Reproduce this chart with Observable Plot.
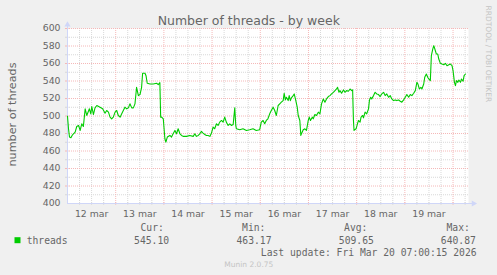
<!DOCTYPE html>
<html><head><meta charset="utf-8">
<script src="https://cdn.jsdelivr.net/npm/d3@7"></script>
<script src="https://cdn.jsdelivr.net/npm/@observablehq/plot@0.6"></script>
<style>
html,body{margin:0;padding:0;background:#F0F0F0;}
#chart{width:497px;height:275px;overflow:hidden;}
</style></head><body><div id="chart"></div>
<script>
// hours since 12 mar 00:00
const hours = [
  0, 0.5, 1.0, 1.7, 2.3, 3.0, 3.8, 4.6, 5.5, 6.3,
  7.1, 7.9, 8.8, 9.6, 10.9, 11.6, 12.1, 12.9, 13.7, 14.6,
  16.2, 17.5, 18.7, 19.5, 20.4, 21.2, 22.0, 22.8, 23.7, 24.5,
  25.3, 26.2, 27.0, 27.8, 28.6, 29.5, 30.3, 31.1, 32.0, 32.8,
  33.6, 34.4, 35.3, 36.1, 36.9, 37.4, 38.6, 39.1, 39.7, 41.1,
  42.7, 44.4, 45.2, 46.0, 46.4, 46.9, 47.7, 48.5, 49.0, 49.7,
  51.0, 51.8, 52.6, 53.5, 54.3, 55.1, 56.0, 56.8, 57.6, 59.3,
  60.9, 62.6, 63.4, 64.2, 65.1, 65.9, 66.7, 67.5, 68.4, 69.2,
  70.0, 70.9, 71.7, 72.5, 73.3, 74.2, 75.0, 75.8, 76.7, 77.5,
  78.3, 79.1, 80.0, 80.8, 81.6, 82.5, 83.3, 83.8, 84.1, 85.8,
  87.4, 89.1, 90.7, 92.4, 94.0, 95.7, 96.5, 97.4, 98.2, 99.0,
  99.8, 100.7, 101.5, 102.4, 103.2, 104.0, 104.9, 105.7, 106.5, 107.4,
  107.9, 108.5, 109.0, 109.9, 110.4, 111.0, 111.5, 112.4, 112.9, 113.7,
  114.4, 114.9, 115.7, 116.2, 116.5, 117.4, 118.2, 119.0, 119.9, 120.4,
  121.0, 121.9, 122.4, 123.2, 124.0, 124.9, 125.7, 126.5, 127.4, 128.2,
  129.0, 129.9, 130.7, 131.5, 132.4, 133.2, 134.0, 134.5, 135.2, 135.7,
  136.5, 137.4, 138.2, 139.0, 139.9, 140.7, 141.5, 142.0, 142.4, 142.7,
  143.7, 144.4, 144.9, 145.7, 146.2, 147.0, 147.4, 148.2, 149.0, 149.9,
  150.4, 151.0, 151.5, 152.4, 153.2, 154.0, 154.9, 155.7, 156.5, 157.4,
  158.2, 159.0, 159.9, 160.7, 161.5, 162.4, 163.2, 164.0, 164.9, 165.7,
  166.5, 167.4, 168.2, 169.0, 169.9, 170.7, 171.5, 172.4, 173.2, 174.0,
  174.5, 175.2, 176.0, 176.5, 177.4, 177.9, 178.7, 179.4, 179.9, 180.7,
  181.2, 181.9, 182.4, 182.7, 183.2, 183.7, 184.4, 184.9, 185.7, 186.5,
  187.4, 188.2, 189.0, 189.9, 190.7, 191.5, 192.0, 192.7, 193.2, 193.7,
  194.4, 194.9, 195.7, 196.2, 197.0, 197.5, 198.2
];
const threads = [
  499.8, 485.4, 475.9, 475.1, 477.8, 479.7, 481.6, 488.0, 489.2, 483.5,
  491.1, 488.0, 508.2, 500.6, 508.2, 502.5, 510.8, 501.7, 509.3, 512.0,
  510.1, 508.2, 503.2, 506.3, 504.4, 498.7, 496.8, 498.7, 504.4, 506.3,
  500.6, 498.7, 502.5, 506.3, 510.1, 508.2, 509.3, 513.9, 509.3, 509.3,
  513.9, 532.8, 523.3, 524.5, 532.8, 548.8, 548.8, 546.1, 537.4, 536.6,
  536.6, 537.4, 535.9, 538.1, 498.7, 498.7, 496.8, 474.0, 470.2, 475.9,
  477.8, 475.9, 479.7, 483.5, 479.7, 485.4, 479.7, 477.8, 476.7, 476.7,
  477.8, 476.7, 479.7, 476.7, 477.8, 479.7, 482.4, 480.5, 478.9, 477.8,
  477.8, 476.7, 480.5, 487.3, 485.4, 491.1, 489.2, 493.0, 494.9, 493.0,
  498.7, 493.0, 489.2, 491.1, 489.2, 490.3, 509.3, 489.2, 485.4, 484.3,
  485.4, 483.5, 484.3, 485.4, 483.5, 484.3, 493.0, 494.9, 491.1, 494.9,
  496.8, 502.5, 506.3, 510.1, 506.3, 500.6, 512.0, 513.9, 515.8, 517.6,
  526.0, 518.4, 521.4, 517.6, 523.3, 517.6, 520.7, 523.3, 525.2, 517.6,
  510.1, 500.6, 494.9, 477.8, 479.7, 484.3, 485.4, 483.5, 494.9, 498.7,
  494.9, 498.7, 496.8, 501.7, 500.6, 504.4, 502.5, 513.9, 519.5, 515.8,
  519.5, 522.2, 523.3, 525.2, 527.1, 529.0, 530.9, 532.8, 527.1, 529.0,
  526.0, 529.8, 527.1, 529.0, 528.3, 530.9, 529.0, 529.8, 494.9, 483.5,
  485.4, 491.1, 494.9, 493.0, 498.7, 500.6, 497.9, 504.4, 502.5, 508.2,
  518.4, 521.4, 519.5, 523.3, 527.1, 525.2, 524.5, 522.2, 525.2, 527.1,
  523.3, 525.2, 521.4, 523.3, 519.5, 517.6, 518.4, 517.6, 518.4, 516.9,
  515.8, 518.4, 521.4, 524.5, 521.4, 524.5, 523.3, 526.0, 529.0, 538.5,
  536.6, 530.9, 532.8, 530.9, 536.6, 544.2, 548.0, 544.2, 542.3, 540.4,
  568.9, 576.5, 580.3, 578.4, 574.6, 570.8, 570.8, 565.1, 560.2, 559.4,
  558.6, 560.2, 557.5, 558.6, 559.4, 557.5, 551.8, 538.5, 534.7, 540.4,
  538.5, 541.2, 538.5, 542.3, 539.7, 546.1, 548.0
];
const yTicks = [400, 420, 440, 460, 480, 500, 520, 540, 560, 580, 600];
const dayLabels = ["12 mar", "13 mar", "14 mar", "15 mar", "16 mar", "17 mar", "18 mar", "19 mar"];
const statHeaders = ["Cur:", "Min:", "Avg:", "Max:"];
const statValues = ["545.10", "463.17", "509.65", "640.87"];
const seriesName = "threads";
const titleText = "Number of threads - by week";
const yLabelText = "number of threads";
const lastUpdate = "Last update: Fri Mar 20 07:00:15 2026";
const footerText = "Munin 2.0.75";
const vendorText = "RRDTOOL / TOBI OETIKER";

const HOUR = 3600e3;
const t0 = Date.UTC(2026, 2, 12);
const at = h => new Date(t0 + h * HOUR);
const data = hours.map((h, i) => ({t: at(h), v: threads[i]}));

const ML = 67, MT = 28, MR = 29, MB = 72;
const spanH = 199.7;
const sixH = d3.range(0, spanH, 6);
const minorX = sixH.filter(h => h % 24 !== 0).map(at);
const majorX = sixH.filter(h => h % 24 === 0 && h > 0).map(at);
const minorY = d3.range(410, 600, 20);
const majorY = d3.range(420, 601, 20);
const noon = dayLabels.map((_, i) => at(12 + 24 * i));

const font = "DejaVu Sans, sans-serif";
const mono = "DejaVu Sans Mono, monospace";
const ink = "#666666";
const gridC = "#d8d8d8";
const mgridC = "#f5b8b8";
const axisC = "#CFD6F8";
const green = "#00CC00";

const label = (s, x, y, o = {}) => Plot.text([s], {
  text: d => d, frameAnchor: "top-left", dx: x - ML, dy: y - MT,
  lineAnchor: "bottom", textAnchor: "start", fontFamily: font, fontSize: 9.3, fill: ink, ...o
});

const headX = [140, 241.6, 343.6, 446];
const valX = [133.6, 236, 338.3, 440.3];

const chart = Plot.plot({
  width: 497, height: 275,
  marginLeft: ML, marginTop: MT, marginRight: MR, marginBottom: MB,
  style: {background: "#F0F0F0", overflow: "visible"},
  x: {type: "utc", domain: [at(0), at(spanH)], axis: null},
  y: {domain: [400, 600], axis: null},
  marks: [
    Plot.frame({fill: "white", stroke: "none"}),
    Plot.ruleY(minorY, {y: d => d, stroke: gridC, strokeDasharray: "1,1"}),
    Plot.ruleX(minorX, {x: d => d, stroke: gridC, strokeDasharray: "1,1"}),
    Plot.ruleY(majorY, {y: d => d, stroke: mgridC, strokeDasharray: "1,1"}),
    Plot.ruleX(majorX, {x: d => d, stroke: mgridC, strokeDasharray: "1,1"}),
    // small axis ticks
    Plot.ruleX(minorX, {x: d => d, y1: 398, y2: 401, stroke: gridC}),
    Plot.ruleX(majorX, {x: d => d, y1: 398, y2: 401, stroke: mgridC}),
    Plot.ruleY(minorY, {y: d => d, x1: at(-1), x2: at(0.8), stroke: gridC}),
    Plot.ruleY(majorY, {y: d => d, x1: at(-1), x2: at(0.8), stroke: mgridC}),
    // axes
    Plot.ruleX([0], {x: () => at(0), y1: 400, y2: 606, stroke: axisC}),
    Plot.ruleY([400], {y: d => d, x1: at(0), x2: at(202.5), stroke: axisC}),
    Plot.dot([0], {x: () => at(0), y: () => 604.3, symbol: "triangle", r: 2.3, fill: axisC, stroke: "none"}),
    Plot.dot([0], {x: () => at(202.2), y: () => 400, symbol: "triangle", r: 2.3, rotate: 90, fill: axisC, stroke: "none"}),
    // series
    Plot.line(data, {x: "t", y: "v", stroke: green, strokeWidth: 1.1}),
    // tick labels
    Plot.text(yTicks, {y: d => d, text: d => String(d), frameAnchor: "left", dx: -7, textAnchor: "end", fontFamily: font, fontSize: 9.3, fill: ink}),
    Plot.text(dayLabels, {x: (d, i) => noon[i], text: d => d, frameAnchor: "bottom", dy: 13.7, lineAnchor: "bottom", fontFamily: font, fontSize: 9.3, fill: ink}),
    // titles
    label(titleText, 248.3, 24, {textAnchor: "middle", fontSize: 12.5}),
    label(yLabelText, 15, 114, {textAnchor: "middle", rotate: -90, fontSize: 11.2}),
    label(vendorText, 485.5, 53.3, {textAnchor: "middle", rotate: 90, fontSize: 7.5, fill: "#c4c4c4"}),
    // legend
    Plot.dot([seriesName], {frameAnchor: "top-left", dx: 17 - ML, dy: 239.7 - MT, symbol: "square", r: 3.39, fill: green, stroke: "none"}),
    label(seriesName, 26.2, 243, {fontFamily: mono, fontSize: 9.7}),
    ...statHeaders.map((s, i) => label(s, headX[i], 230.7, {fontFamily: mono, fontSize: 9.7})),
    ...statValues.map((s, i) => label(s, valX[i], 243, {fontFamily: mono, fontSize: 9.7})),
    label(lastUpdate, 260.3, 255, {fontFamily: mono, fontSize: 9.7}),
    label(footerText, 248.3, 266.5, {textAnchor: "middle", fontSize: 7.5, fill: "#c4c4c4"})
  ]
});
document.getElementById("chart").appendChild(chart);
</script>
</body></html>
